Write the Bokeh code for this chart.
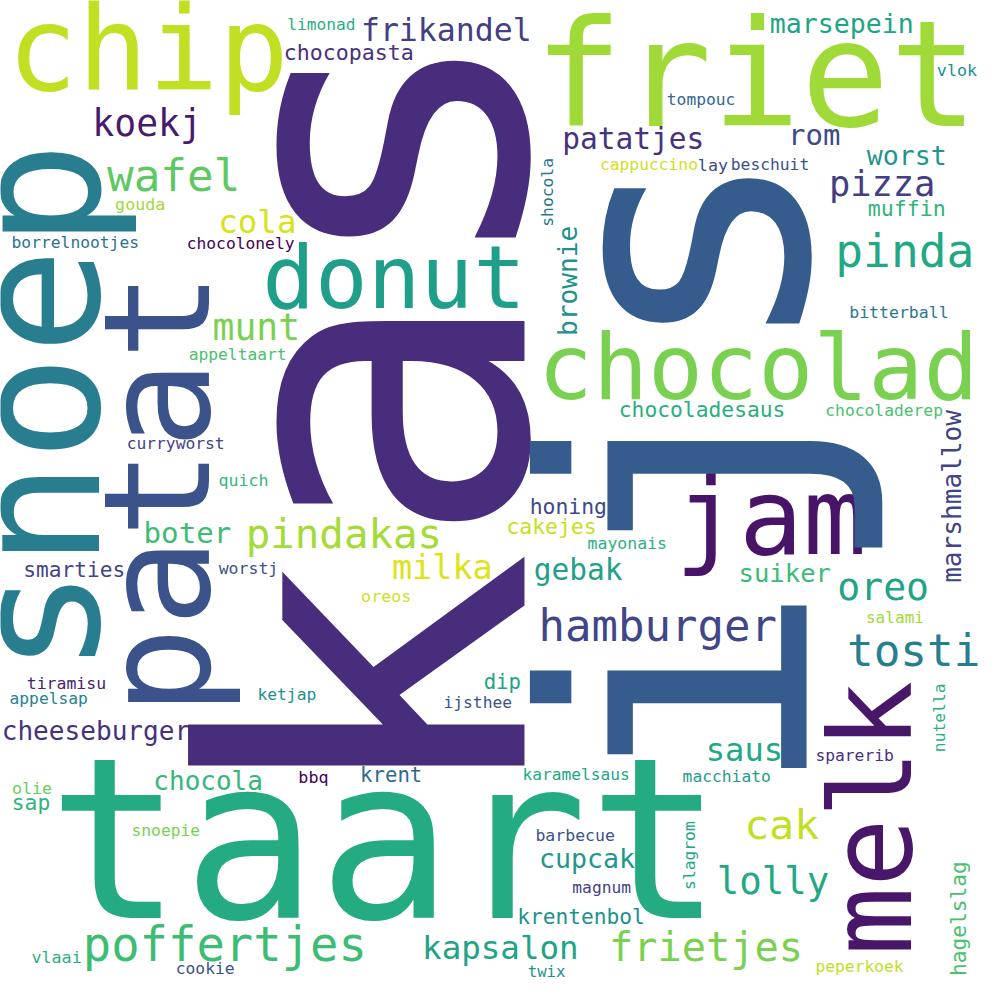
from bokeh.plotting import figure
from bokeh.models import ColumnDataSource, Range1d
from bokeh.core.properties import value
from bokeh.embed import file_html
from bokeh.resources import INLINE
import math

# word cloud, 1000x1000 canvas, y measured from the top
# horizontal words: centre x, baseline y, font px, colour
h_words = ["chip", "limonad", "frikandel", "chocopasta", "koekj", "wafel", "gouda", "cola",
           "borrelnootjes", "chocolonely", "donut", "munt", "appeltaart", "curryworst", "quich",
           "friet", "marsepein", "vlok", "tompouc", "patatjes", "rom", "cappuccino", "lay",
           "beschuit", "worst", "pizza", "muffin", "pinda", "bitterball", "chocolad",
           "chocoladesaus", "chocoladerep", "jam", "honing", "cakejes", "mayonais", "gebak",
           "suiker", "oreo", "hamburger", "salami", "tosti", "dip", "ijsthee", "saus", "sparerib",
           "karamelsaus", "macchiato", "cak", "barbecue", "cupcak", "lolly", "magnum",
           "krentenbol", "kapsalon", "frietjes", "twix", "peperkoek", "boter", "pindakas",
           "milka", "smarties", "worstj", "oreos", "tiramisu", "appelsap", "ketjap",
           "cheeseburger", "chocola", "bbq", "krent", "olie", "sap", "snoepie", "taart",
           "poffertjes", "vlaai", "cookie"]
h_x = [150, 326, 453, 354, 149, 176, 142, 261, 76, 244, 400, 260, 241, 178, 247,
       768, 855, 972, 712, 643, 827, 659, 724, 782, 921, 896, 921, 919, 913, 770,
       713, 898, 783, 577, 560, 637, 587, 797, 897, 668, 909, 928, 510, 485, 756, 868,
       585, 738, 794, 584, 596, 785, 611, 590, 508, 717, 555, 873, 190, 349,
       449, 75, 252, 392, 67, 49, 291, 97, 211, 318, 397, 32, 31, 168, 391,
       228, 57, 208]
h_y = [94, 31, 42, 61, 139, 195, 213, 237, 252, 253, 315, 346, 366, 456, 494,
       131, 33, 77, 107, 152, 148, 173, 173, 173, 168, 199, 220, 272, 323, 407,
       424, 423, 565, 522, 543, 558, 590, 591, 610, 652, 633, 677, 700, 720, 774, 773,
       793, 795, 853, 855, 882, 909, 908, 939, 975, 978, 993, 988, 552, 558,
       589, 586, 583, 611, 700, 715, 711, 752, 803, 795, 795, 807, 823, 850, 938,
       977, 978, 990]
h_size = [119, 16.5, 32, 22, 37, 45, 17, 33, 16.6, 16.6, 89, 37, 16.6, 16.6, 17,
          150, 27, 17, 16.6, 30, 29.5, 16.6, 17, 16.6, 27, 36, 22, 47, 16.8, 93,
          21.6, 16.6, 108, 21.7, 21.7, 16.8, 30, 26, 38.7, 44.7, 16.4, 45, 21, 16.6, 32.6, 16.6,
          16.5, 16.6, 42, 16.8, 27, 38, 16.6, 21.5, 33, 41, 16, 16.6, 29.7, 41.5,
          34, 21.5, 16.8, 17, 16.8, 16.6, 16.6, 26.5, 26.4, 17, 21, 17, 21.6, 16.6, 228,
          48, 17, 16.6]
h_color = ["#c2df23", "#2ab07f", "#433e85", "#46327e", "#481a6c", "#5ec962", "#a0da39", "#d8e219",
           "#2c728e", "#440154", "#1f9e89", "#7ad151", "#4ac16d", "#414487", "#35b779",
           "#a0da39", "#20a486", "#21918c", "#31688e", "#46327e", "#3e4a89", "#d0e11c", "#3e4989",
           "#3b528b", "#1f968b", "#433e85", "#2fb47c", "#22a884", "#2a788e", "#7ad151",
           "#29af7f", "#4ac16d", "#481467", "#3e4989", "#c8e020", "#2ab07f", "#1fa088",
           "#3bbb75", "#20a386", "#404688", "#a0da39", "#277f8e", "#21a585", "#3b528b", "#22a884", "#46337e",
           "#22a884", "#1f9e89", "#c2df23", "#3b528b", "#1f988b", "#22a884", "#414487",
           "#21918c", "#20a386", "#7ad151", "#21918c", "#bddf26", "#3dbc74", "#a5db36",
           "#dde318", "#414487", "#3b528b", "#d0e11c", "#481f70", "#26828e", "#21918c",
           "#46327e", "#35b779", "#440154", "#31688e", "#6ccd5a", "#2fb47c", "#7ad151", "#25ab82",
           "#3dbc74", "#29af7f", "#3b528b"]

# vertical words (read bottom to top): baseline x, centre y, font px, colour
v_words = ["snoep", "patat", "kas", "ijs", "shocola", "brownie", "marshmallow", "melk",
           "nutella", "slagrom", "hagelslag"]
v_x = [105, 216, 543, 828, 562, 587, 977, 928, 960, 706, 982]
v_y = [414, 501, 423, 478, 195, 285, 504, 831, 729, 869, 933]
v_size = [180, 150, 450, 370, 16.6, 26.6, 26.5, 116, 16.6, 16.6, 21.5]
v_color = ["#287d8e", "#3b528b", "#472d7b", "#365c8d", "#2a788e", "#21918c", "#414487",
           "#481769", "#29af7f", "#22a884", "#4ac16d"]

W = 984
k = W / 1000.0
MID = 0.37  # bokeh anchors text at the middle of the cap height

p = figure(width=W, height=W, output_backend="svg", toolbar_location=None,
           x_range=Range1d(0, 1000), y_range=Range1d(0, 1000), min_border=0)
p.axis.visible = False
p.grid.visible = False
p.outline_line_color = None
p.background_fill_color = "white"
p.border_fill_color = "white"

src_h = ColumnDataSource(dict(
    x=h_x, y=[1000 - (y - MID * s) for y, s in zip(h_y, h_size)], text=h_words,
    size=["%.1fpx" % (s * k) for s in h_size], color=h_color))
src_v = ColumnDataSource(dict(
    x=[x - MID * s for x, s in zip(v_x, v_size)], y=[1000 - v for v in v_y], text=v_words,
    size=["%.1fpx" % (s * k) for s in v_size], color=v_color))

p.text(x="x", y="y", text="text", source=src_h, text_font=value("DejaVu Sans Mono"),
       text_font_size="size", text_color="color", text_align="center",
       text_baseline="middle")
p.text(x="x", y="y", text="text", source=src_v, text_font=value("DejaVu Sans Mono"),
       text_font_size="size", text_color="color", text_align="center",
       text_baseline="middle", angle=math.pi / 2)

open("out.html", "w").write(file_html(p, INLINE))
